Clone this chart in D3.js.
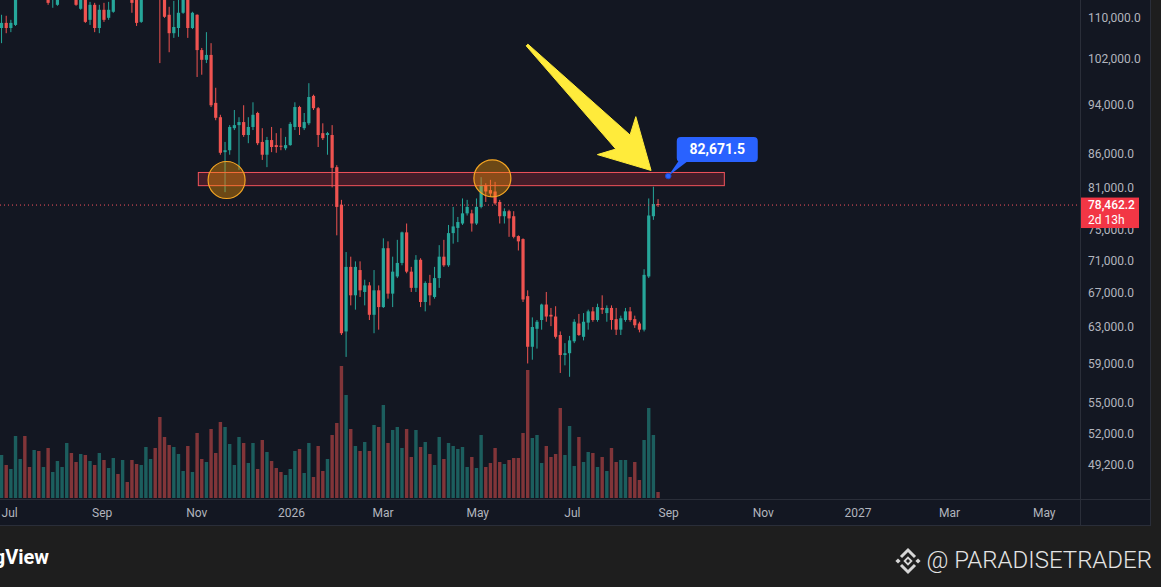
<!DOCTYPE html>
<html>
<head>
<meta charset="utf-8">
<script src="https://cdn.jsdelivr.net/npm/d3@7"></script>
<style>
html, body { margin: 0; padding: 0; background: #1e1e1e; overflow: hidden; }
svg { display: block; }
text { font-family: Roboto, "Noto Sans", sans-serif; }
</style>
</head>
<body>
<div id="container"></div>
<script>
/**
 * CONSTANTS
 * */
const width = 1161, height = 587;
const plot = {w: 1080, h: 499};
const panel = {w: 1151, h: 526};

const upColor = "#26a69a", downColor = "#ef5350";

/**
 * DATA  (3-day candles)
 * */
const firstOpen = new Date(2025, 5, 27);

const opens = [107900,108900,107900,108500,115800,117400,115900,114700,116900,115600,
  116500,113600,112500,116600,118300,121000,117200,111700,114400,109500,
  112500,107900,111500,109900,111100,114600,113900,116400,114200,113800,
  109100,114100,115600,117100,115100,113700,110500,106900,107900,110900,
  114100,107900,110500,103700,101900,102800,94300,91900,86300,86600,
  90100,90600,91100,89000,90300,92600,87900,85900,88200,87400,
  87300,86900,87400,90300,93600,90100,90900,95500,93400,89300,
  89000,89000,84000,78500,62500,70200,66700,69800,67100,67900,
  64400,67300,65300,72600,66900,69000,70700,74700,69600,67600,
  71100,65900,68200,66500,68800,71500,70400,74600,75300,75900,
  77300,77300,75900,78200,81300,80600,80400,78900,76900,77600,
  76900,74200,73800,66600,60800,62800,63800,65600,64400,64200,
  62100,59900,60100,61400,63400,61900,63500,64800,63800,65200,
  64600,65200,63900,62700,63800,64800,63900,63400,62700,69000,
  76900,78600];

const highs = [110500,110300,109500,116900,118600,118300,116600,117500,117900,117300,
  117100,116000,117400,119300,122300,121600,117900,115100,115000,113100,
  112900,112500,112900,113100,115600,116000,117100,117000,114900,114600,
  115000,116700,118100,117700,116300,114400,112100,113300,113600,114900,
  114700,111100,110600,104100,107100,105000,96900,92300,87900,90600,
  93100,91900,93900,91900,94400,92800,90100,88700,90300,89300,
  90100,88700,91100,94400,93800,92600,97700,95700,93600,90900,
  89500,90600,84300,79200,72100,71500,70900,70900,68600,68300,
  69800,67900,73900,73500,71500,73700,74800,75900,70200,71700,
  71300,68400,69200,70200,73000,73700,75700,78200,76800,79400,
  79200,77800,79400,82500,81600,82100,81800,79200,78000,77800,
  77600,74300,73900,67300,64100,63800,65700,67100,65200,65400,
  62500,61200,62000,63900,64500,64600,65000,65300,65700,66700,
  65500,65500,65200,64300,65200,65300,64300,63600,69900,79400,
  81100,79300];

const lows = [105000,106900,107100,108300,115200,114900,114100,114300,115000,114800,
  112500,111900,112300,115900,117800,116300,112300,111500,108900,108500,
  107100,106900,109100,109500,110900,113600,113600,113700,110900,108300,
  108900,113600,114900,114200,101300,109900,103300,106000,106200,110700,
  106000,107700,98800,99200,101300,93600,91400,85900,80300,85900,
  89800,83600,88700,87700,89800,87400,85100,84000,86300,86200,
  86600,86600,87300,89800,89000,89800,90600,93100,87100,88200,
  85900,81000,74300,62100,59700,65500,65000,66500,65500,63800,
  62300,62700,65200,66300,65300,68800,70400,69400,67100,67100,
  65300,64800,65500,66300,67600,70200,70200,73200,73400,75700,
  77000,74800,75700,78000,78900,79600,78500,75900,75900,74100,
  73900,72300,65900,59000,59400,60600,62700,63600,63100,61700,
  58000,58800,57600,61200,62000,61500,62700,63600,63600,64500,
  63600,62700,62100,62100,63600,63600,62900,62400,62500,68800,
  76400,78200];

const closes = [108900,107900,108900,115800,117400,115900,114700,116900,115600,116500,
  112900,115200,116600,118300,121000,117200,112500,114400,109100,112500,
  107900,111500,109500,111500,114600,113900,116400,114200,112900,108900,
  114100,115600,117100,115100,113700,110100,106900,108100,110900,114100,
  107900,110900,103700,101900,102800,93900,91800,86200,86600,90300,
  90600,91100,89000,90300,92300,87700,85900,88200,87100,87100,
  87200,87400,90800,93600,90300,91100,95300,93400,89000,88500,
  89300,83900,78200,62300,70200,66700,70200,67300,67900,64400,
  67300,65300,72600,66900,69600,70700,74700,69600,67600,71100,
  65900,68200,66700,68800,71500,70400,74600,75500,76100,77300,
  78200,75900,78200,81300,80400,80100,78700,76900,77600,76600,
  74100,73500,66200,60800,63000,63600,65600,64200,64200,61900,
  59900,60100,61500,63600,62100,63600,64800,63800,65300,65000,
  65200,63800,62700,64000,64800,63800,63200,62700,69200,77000,
  78600,78462.2];

// volume, thousands
const volumes = [43,33,29,62,39,62,31,48,47,31, 50,26,37,31,55,45,36,44,43,37,
  33,45,38,30,40,24,38,16,38,34, 33,51,39,50,81,61,53,51,44,27,
  52,26,65,39,36,69,45,76,71,54, 33,61,55,35,55,29,58,46,37,30,
  26,23,29,47,49,25,55,21,52,27, 39,63,75,132,103,69,52,47,56,47,
  73,71,93,55,68,71,50,69,41,68, 51,56,44,33,61,39,55,52,49,51,
  31,41,30,63,31,35,50,36,34,38, 40,40,65,128,60,63,35,52,41,44,
  90,43,72,32,61,36,46,45,31,41, 27,50,36,38,38,21,36,18,58,90,
  63,6];

const priceTicks = [110000, 102000, 94000, 86000, 81000, 75000, 71000, 67000, 63000, 59000, 55000, 52000, 49200];

const lastPrice = 78462.2;
const countdown = "2d 13h";

// drawings
const zoneStart = new Date(2025, 10, 2, 7), zoneEnd = new Date(2026, 9, 7, 5);
const zoneTop = 83200, zoneBottom = 81250;
const touchDates = [new Date(2025, 10, 20, 12), new Date(2026, 4, 10, 18)];
const touchPrices = [82080, 82330];
const arrowTail = {date: new Date(2026, 5, 2, 2), price: 104650};
const arrowTip = {date: new Date(2026, 7, 21), price: 83500};
const tagDate = new Date(2026, 8, 1, 2), tagPrice = 82671.5;

/**
 * SCALES
 * */
const x = d3.scaleTime()
  .domain([new Date(2025, 5, 27, 12), new Date(2027, 4, 24, 9)])
  .range([0, plot.w]);

const y = d3.scaleLog()
  .domain([46230, 113480])
  .range([plot.h, 0]);

const yVol = d3.scaleLinear()
  .domain([0, d3.max(volumes)])
  .range([498, 366]);

const candles = opens.map((o, i) => ({
  date: d3.timeHour.offset(d3.timeDay.offset(firstOpen, 3 * i), 36),
  open: o, high: highs[i], low: lows[i], close: closes[i], volume: volumes[i]
}));

/**
 * DRAW
 * */
const svg = d3.select("#container").append("svg")
  .attr("width", width)
  .attr("height", height);

svg.append("rect").attr("width", width).attr("height", height).attr("fill", "#1e1e1e");
svg.append("rect").attr("width", panel.w).attr("height", panel.h).attr("fill", "#131722");

svg.append("defs").append("clipPath").attr("id", "plotClip")
  .append("rect").attr("width", plot.w).attr("height", plot.h);

// separators
svg.append("line").attr("x1", plot.w + 0.5).attr("x2", plot.w + 0.5).attr("y1", 0).attr("y2", panel.h)
  .attr("stroke", "#2a2e39");
svg.append("line").attr("x1", 0).attr("x2", panel.w).attr("y1", plot.h + 0.5).attr("y2", plot.h + 0.5)
  .attr("stroke", "#2a2e39");
svg.append("line").attr("x1", panel.w - 0.5).attr("x2", panel.w - 0.5).attr("y1", 0).attr("y2", panel.h)
  .attr("stroke", "#2a2e39");
svg.append("line").attr("x1", 0).attr("x2", panel.w).attr("y1", panel.h - 0.5).attr("y2", panel.h - 0.5)
  .attr("stroke", "#2a2e39");

const g = svg.append("g").attr("clip-path", "url(#plotClip)");

// volume
g.append("g").selectAll("rect")
  .data(candles)
  .join("rect")
  .attr("x", d => x(d.date) - 1.7)
  .attr("width", 3.4)
  .attr("y", d => yVol(d.volume))
  .attr("height", d => yVol(0) - yVol(d.volume))
  .attr("fill", d => d.close >= d.open ? upColor : downColor)
  .attr("fill-opacity", 0.5);

// candles
const c = g.append("g").selectAll("g")
  .data(candles)
  .join("g")
  .attr("fill", d => d.close >= d.open ? upColor : downColor)
  .attr("stroke", d => d.close >= d.open ? upColor : downColor);

c.append("line")
  .attr("x1", d => x(d.date)).attr("x2", d => x(d.date))
  .attr("y1", d => y(d.high)).attr("y2", d => y(d.low))
  .attr("stroke-width", 1);

c.append("rect")
  .attr("stroke", "none")
  .attr("x", d => x(d.date) - 1.6)
  .attr("width", 3.2)
  .attr("y", d => y(Math.max(d.open, d.close)))
  .attr("height", d => Math.max(1, Math.abs(y(d.open) - y(d.close))));

// last price line
g.append("line")
  .attr("x1", 0).attr("x2", plot.w)
  .attr("y1", y(lastPrice)).attr("y2", y(lastPrice))
  .attr("stroke", "#f7525f")
  .attr("stroke-dasharray", "1 3");

// resistance zone
g.append("rect")
  .attr("x", x(zoneStart))
  .attr("width", x(zoneEnd) - x(zoneStart))
  .attr("y", y(zoneTop))
  .attr("height", y(zoneBottom) - y(zoneTop))
  .attr("fill", "#f23645").attr("fill-opacity", 0.22)
  .attr("stroke", "#f0535b").attr("stroke-width", 1);

// touch circles
g.selectAll("circle.touch")
  .data(touchDates)
  .join("circle")
  .attr("class", "touch")
  .attr("cx", d => x(d))
  .attr("cy", (d, i) => y(touchPrices[i]))
  .attr("r", 18.5)
  .attr("fill", "#ff9800").attr("fill-opacity", 0.38)
  .attr("stroke", "#f5a623").attr("stroke-width", 1.2);

// yellow arrow
const t0 = [x(arrowTail.date), y(arrowTail.price)];
const t1 = [x(arrowTip.date), y(arrowTip.price)];
const len = Math.hypot(t1[0] - t0[0], t1[1] - t0[1]);
const u = [(t1[0] - t0[0]) / len, (t1[1] - t0[1]) / len];
const n = [-u[1], u[0]];
const at = (base, along, side) => [base[0] + u[0] * along + n[0] * side, base[1] + u[1] * along + n[1] * side];
const arrowPts = [
  at(t0, 0, 1.2), at(t1, -40, 10), at(t1, -49, 27), t1,
  at(t1, -49, -27), at(t1, -40, -10), at(t0, 0, -1.2)
];
g.append("polygon")
  .attr("points", arrowPts.map(p => p.join(",")).join(" "))
  .attr("fill", "#ffeb3b")
  .attr("stroke", "#ffeb3b").attr("stroke-width", 1).attr("stroke-linejoin", "round");

// price tag
const ax = x(tagDate), ay = y(tagPrice);
const tag = g.append("g");
tag.append("polygon")
  .attr("points", [[ax + 11, ay - 16], [ax + 21, ay - 16], [ax, ay]].map(p => p.join(",")).join(" "))
  .attr("fill", "#2962ff");
tag.append("rect")
  .attr("x", ax + 8.5).attr("y", ay - 39)
  .attr("width", 81).attr("height", 25).attr("rx", 4)
  .attr("fill", "#2962ff");
tag.append("circle")
  .attr("cx", ax).attr("cy", ay).attr("r", 2.8)
  .attr("fill", "#2962ff").attr("stroke", "#1848c8").attr("stroke-width", 1);
tag.append("text")
  .attr("x", ax + 49).attr("y", ay - 26.5)
  .attr("dy", "0.35em")
  .attr("text-anchor", "middle")
  .attr("fill", "#ffffff")
  .attr("font-size", 14).attr("font-weight", 700)
  .text(d3.format(",.1f")(tagPrice));

// price axis labels
svg.append("g").selectAll("text")
  .data(priceTicks)
  .join("text")
  .attr("x", 1088)
  .attr("y", d => y(d))
  .attr("dy", "0.35em")
  .attr("fill", "#b2b5be")
  .attr("font-size", 12)
  .text(d => d3.format(",.1f")(d));

// last price badge
const ly = y(lastPrice);
svg.append("rect")
  .attr("x", plot.w + 1).attr("y", ly - 7.5)
  .attr("width", 58).attr("height", 30.5)
  .attr("fill", "#f23645");
svg.append("text")
  .attr("x", 1088).attr("y", ly).attr("dy", "0.35em")
  .attr("fill", "#ffffff").attr("font-size", 12).attr("font-weight", 500)
  .text(d3.format(",.1f")(lastPrice));
svg.append("text")
  .attr("x", 1088).attr("y", ly + 14.5).attr("dy", "0.35em")
  .attr("fill", "#ffffff").attr("font-size", 12)
  .text(countdown);

// time axis
const fmtMonth = d3.timeFormat("%b"), fmtYear = d3.timeFormat("%Y");
const xAxis = d3.axisBottom(x)
  .ticks(d3.timeMonth.every(2))
  .tickSize(0)
  .tickPadding(9)
  .tickFormat(d => d.getMonth() === 0 ? fmtYear(d) : fmtMonth(d));

const xg = svg.append("g")
  .attr("transform", `translate(0,${plot.h})`)
  .call(xAxis);
xg.select(".domain").remove();
xg.selectAll("text")
  .attr("fill", "#b2b5be")
  .attr("font-size", 12)
  .attr("font-family", "Roboto, sans-serif");
// keep the first label inside the panel
xg.selectAll(".tick").filter(d => x(d) < 10).select("text")
  .attr("text-anchor", "start")
  .attr("x", d => 1 - x(d));

// footer
svg.append("text")
  .attr("x", 49).attr("y", 564)
  .attr("text-anchor", "end")
  .attr("fill", "#ffffff")
  .attr("font-size", 20).attr("font-weight", 700)
  .text("TradingView");

svg.append("text")
  .attr("x", 1152).attr("y", 568)
  .attr("text-anchor", "end")
  .attr("fill", "#e4e4e4")
  .attr("font-size", 24).attr("font-weight", 300)
  .attr("font-family", "Roboto, sans-serif")
  .text("@ PARADISETRADER");

// exchange logo
const logo = svg.append("g")
  .attr("transform", "translate(908,561)")
  .attr("fill", "#d6d6d6").attr("stroke", "#d6d6d6");
const diamond = (cx, cy, r) => `M${cx},${cy - r}L${cx + r},${cy}L${cx},${cy + r}L${cx - r},${cy}Z`;
logo.append("path").attr("d", diamond(-10, 0, 2.6)).attr("stroke", "none");
logo.append("path").attr("d", diamond(10, 0, 2.6)).attr("stroke", "none");
logo.append("path").attr("d", diamond(0, 0, 3.4)).attr("fill", "none").attr("stroke-width", 1.8);
logo.append("path").attr("d", "M-7,-4L0,-11L7,-4").attr("fill", "none").attr("stroke-width", 3);
logo.append("path").attr("d", "M-7,4L0,11L7,4").attr("fill", "none").attr("stroke-width", 3);
</script>
</body>
</html>
